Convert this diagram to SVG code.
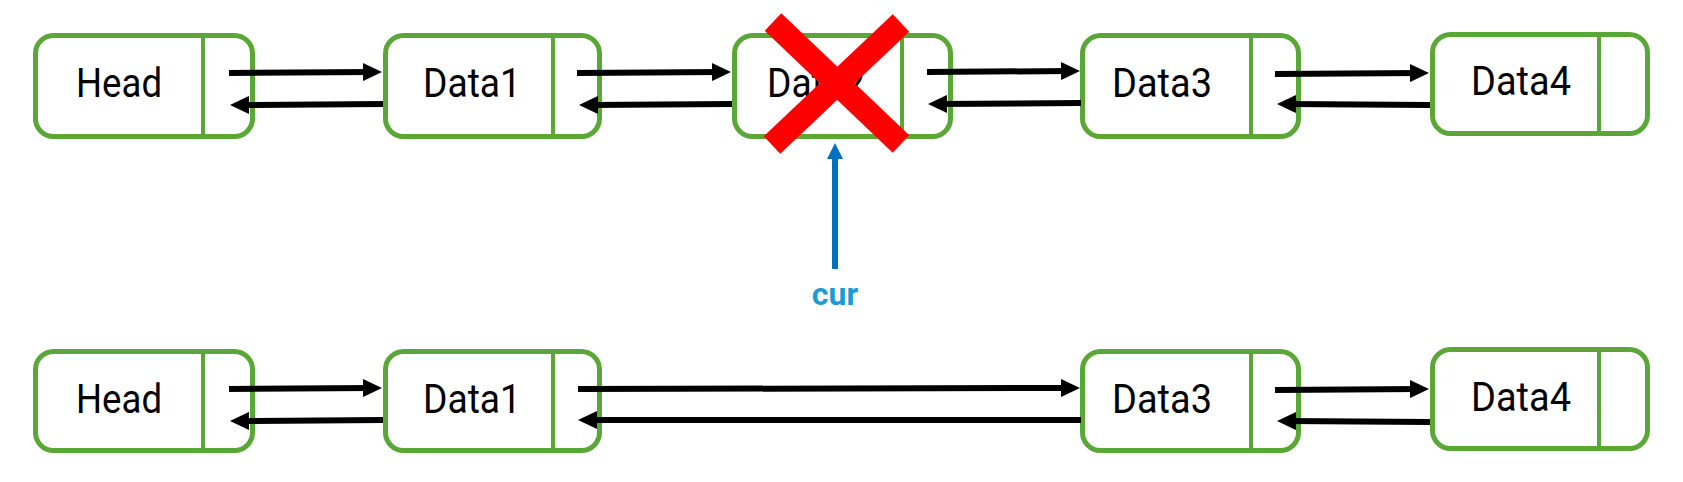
<svg xmlns="http://www.w3.org/2000/svg" width="1683" height="482" viewBox="0 0 1683 482">
  <style>
    .box { fill: #ffffff; stroke: #5AA636; stroke-width: 5; }
    .div { stroke: #5AA636; stroke-width: 4; }
    .lbl { font-family: Roboto, "Liberation Sans", sans-serif; font-size: 40px; fill: #000000; text-anchor: middle; }
    .link { stroke: #000000; stroke-width: 6; fill: none; }
    .cur { font-family: Roboto, "Liberation Sans", sans-serif; font-size: 32px; font-weight: bold; fill: #1E9BD7; text-anchor: middle; }
  </style>
  <defs>
    <marker id="ah" markerUnits="userSpaceOnUse" markerWidth="19" markerHeight="18" refX="9" refY="9" orient="auto">
      <path d="M0,0 L19,9 L0,18 z" fill="#000000"/>
    </marker>
    <marker id="ahb" markerUnits="userSpaceOnUse" markerWidth="18" markerHeight="16" refX="6" refY="8" orient="auto">
      <path d="M0,0 L16,8 L0,16 z" fill="#0070C0"/>
    </marker>
  </defs>

  <rect width="1683" height="482" fill="#ffffff"/>

  <!-- top row -->
  <g id="top-head">
    <rect class="box" x="35.5" y="35.5" width="217" height="101" rx="18"/>
    <line class="div" x1="203" y1="35.5" x2="203" y2="136.5"/>
    <text class="lbl" x="119" y="97" textLength="86" lengthAdjust="spacingAndGlyphs">Head</text>
  </g>
  <g id="top-data1">
    <rect class="box" x="385.5" y="35.5" width="214" height="101" rx="18"/>
    <line class="div" x1="553" y1="35.5" x2="553" y2="136.5"/>
    <text class="lbl" x="472" y="97" textLength="98" lengthAdjust="spacingAndGlyphs">Data1</text>
  </g>
  <g id="top-data2">
    <rect class="box" x="734.5" y="35.5" width="216" height="101" rx="18"/>
    <line class="div" x1="902" y1="35.5" x2="902" y2="136.5"/>
    <text class="lbl" x="816" y="97" textLength="98" lengthAdjust="spacingAndGlyphs">Data2</text>
  </g>
  <g id="top-data3">
    <rect class="box" x="1082.5" y="35.5" width="216" height="101" rx="18"/>
    <line class="div" x1="1251" y1="35.5" x2="1251" y2="136.5"/>
    <text class="lbl" x="1162" y="97" textLength="100" lengthAdjust="spacingAndGlyphs">Data3</text>
  </g>
  <g id="top-data4">
    <rect class="box" x="1432.5" y="34.5" width="215" height="99" rx="18"/>
    <line class="div" x1="1599" y1="34.5" x2="1599" y2="133.5"/>
    <text class="lbl" x="1521" y="95" textLength="100" lengthAdjust="spacingAndGlyphs">Data4</text>
  </g>

  <!-- deletion mark -->
  <g id="delete-mark">
    <line x1="773" y1="22" x2="901" y2="144" stroke="#FF0000" stroke-width="24"/>
    <line x1="901" y1="23" x2="772" y2="145" stroke="#FF0000" stroke-width="24"/>
  </g>

  <!-- bottom row -->
  <g id="bottom-head">
    <rect class="box" x="35.5" y="351.5" width="217" height="99" rx="18"/>
    <line class="div" x1="203" y1="351.5" x2="203" y2="450.5"/>
    <text class="lbl" x="119" y="413" textLength="86" lengthAdjust="spacingAndGlyphs">Head</text>
  </g>
  <g id="bottom-data1">
    <rect class="box" x="385.5" y="351.5" width="214" height="99" rx="18"/>
    <line class="div" x1="553" y1="351.5" x2="553" y2="450.5"/>
    <text class="lbl" x="472" y="413" textLength="98" lengthAdjust="spacingAndGlyphs">Data1</text>
  </g>
  <g id="bottom-data3">
    <rect class="box" x="1082.5" y="351.5" width="216" height="99" rx="18"/>
    <line class="div" x1="1251" y1="351.5" x2="1251" y2="450.5"/>
    <text class="lbl" x="1162" y="413" textLength="100" lengthAdjust="spacingAndGlyphs">Data3</text>
  </g>
  <g id="bottom-data4">
    <rect class="box" x="1432.5" y="349.5" width="215" height="99" rx="18"/>
    <line class="div" x1="1599" y1="349.5" x2="1599" y2="448.5"/>
    <text class="lbl" x="1521" y="411" textLength="100" lengthAdjust="spacingAndGlyphs">Data4</text>
  </g>

  <!-- connectors -->
  <g id="connectors">
    <line class="link" x1="229" y1="73" x2="372" y2="72" marker-end="url(#ah)"/>
    <line class="link" x1="383" y1="104" x2="240" y2="105" marker-end="url(#ah)"/>
    <line class="link" x1="577" y1="73" x2="721" y2="72" marker-end="url(#ah)"/>
    <line class="link" x1="732" y1="104" x2="589" y2="105" marker-end="url(#ah)"/>
    <line class="link" x1="927" y1="72" x2="1070" y2="71" marker-end="url(#ah)"/>
    <line class="link" x1="1081" y1="103" x2="938" y2="104" marker-end="url(#ah)"/>
    <line class="link" x1="1275" y1="74" x2="1419" y2="73" marker-end="url(#ah)"/>
    <line class="link" x1="1430" y1="105" x2="1287" y2="104" marker-end="url(#ah)"/>

    <line class="link" x1="229" y1="389" x2="372" y2="388" marker-end="url(#ah)"/>
    <line class="link" x1="383" y1="420" x2="240" y2="421" marker-end="url(#ah)"/>
    <line class="link" x1="578" y1="389" x2="1070" y2="388" marker-end="url(#ah)"/>
    <line class="link" x1="1081" y1="420" x2="588" y2="420" marker-end="url(#ah)"/>
    <line class="link" x1="1275" y1="390" x2="1419" y2="389" marker-end="url(#ah)"/>
    <line class="link" x1="1430" y1="422" x2="1287" y2="421" marker-end="url(#ah)"/>

    <line x1="835" y1="269" x2="835" y2="153" stroke="#0070C0" stroke-width="6" marker-end="url(#ahb)"/>
  </g>

  <g id="cur-label">
    <text class="cur" x="835" y="305">cur</text>
  </g>
</svg>
